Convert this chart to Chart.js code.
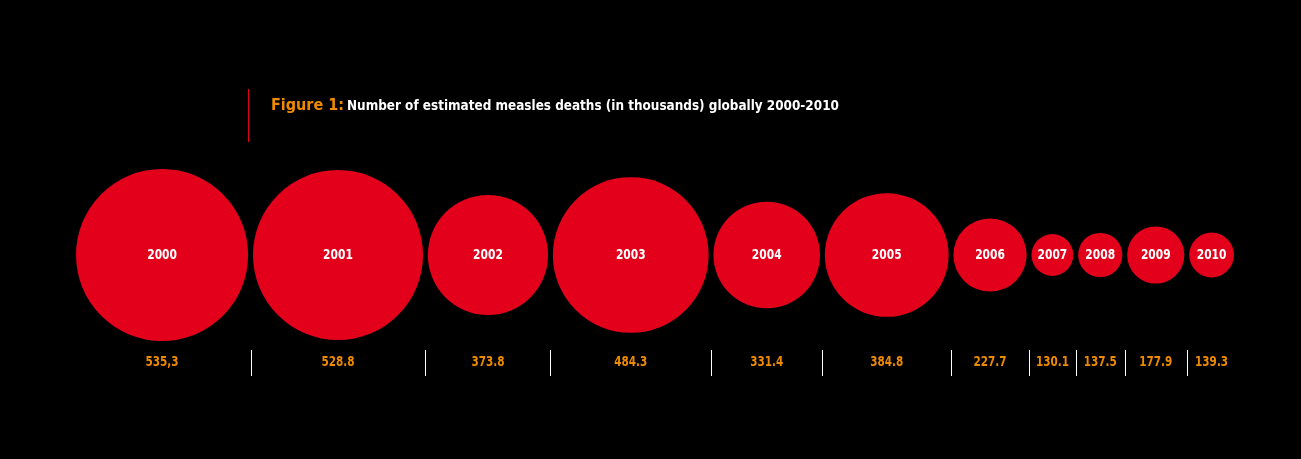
<!DOCTYPE html>
<html>
<head>
<meta charset="utf-8">
<script src="https://cdn.jsdelivr.net/npm/chart.js@4.4.1/dist/chart.umd.min.js"></script>
<style>
    html, body { margin: 0; padding: 0; background: #000; }
    canvas { display: block; }
</style>
</head>
<body>
<canvas id="chart" width="1301" height="459"></canvas>
<script>
var years = ['2000', '2001', '2002', '2003', '2004', '2005', '2006', '2007', '2008', '2009', '2010'];
var deaths = [535.3, 528.8, 373.8, 484.3, 331.4, 384.8, 227.7, 130.1, 137.5, 177.9, 139.3];
var valueLabels = ['535,3', '528.8', '373.8', '484.3', '331.4', '384.8', '227.7', '130.1', '137.5', '177.9', '139.3'];

var RED = '#e2001a',
    ORANGE = '#ee8a00',
    FONT = '"DejaVu Sans Condensed", "DejaVu Sans", sans-serif';

var PAD_LEFT = 76, PAD_RIGHT = 67, WIDTH = 1301;

// bubbles sit side by side, spacing in the same units as the values
var GAP = 30;
var centers = [], pos = 0;
for (var i = 0; i < deaths.length; i++) {
    if (i > 0) pos += GAP;
    centers.push(pos + deaths[i]);
    pos += 2 * deaths[i];
}
var total = pos;
// pixels per value unit on the x scale, so radius matches the x spacing
var pxPerUnit = (WIDTH - PAD_LEFT - PAD_RIGHT) / total;

var points = centers.map(function (c, i) {
    return { x: c, y: 0, r: deaths[i] * pxPerUnit };
});

// narrow text: squeeze horizontally around x
function narrowText(ctx, text, x, y, squeeze) {
    ctx.save();
    ctx.translate(x, y);
    ctx.scale(squeeze, 1);
    ctx.fillText(text, 0, 0);
    ctx.restore();
}

var labelsPlugin = {
    id: 'labels',
    afterDatasetsDraw: function (chart) {
        var ctx = chart.ctx,
            xs = chart.scales.x,
            meta = chart.getDatasetMeta(0);
        ctx.save();
        ctx.textAlign = 'center';
        ctx.textBaseline = 'middle';

        // years inside the circles
        ctx.fillStyle = '#fff';
        ctx.font = 'bold 13.5px ' + FONT;
        meta.data.forEach(function (el, i) {
            narrowText(ctx, years[i], el.x, el.y + 0.5, 0.88);
        });

        // values below
        ctx.fillStyle = ORANGE;
        ctx.font = 'bold 14.5px ' + FONT;
        meta.data.forEach(function (el, i) {
            narrowText(ctx, valueLabels[i], el.x, 362.5, 0.8);
        });

        // separators
        ctx.strokeStyle = '#fff';
        ctx.lineWidth = 1;
        for (var i = 0; i < deaths.length - 1; i++) {
            var px = Math.round(xs.getPixelForValue(centers[i] + deaths[i] + GAP / 2)) + 0.5;
            ctx.beginPath();
            ctx.moveTo(px, 350);
            ctx.lineTo(px, 376);
            ctx.stroke();
        }

        // title
        ctx.strokeStyle = RED;
        ctx.beginPath();
        ctx.moveTo(248.5, 89);
        ctx.lineTo(248.5, 142);
        ctx.stroke();

        ctx.textAlign = 'left';
        ctx.textBaseline = 'alphabetic';
        ctx.fillStyle = ORANGE;
        ctx.font = 'bold 16px ' + FONT;
        var head = 'Figure 1:';
        ctx.fillText(head, 271, 110);
        var w = ctx.measureText(head).width;
        ctx.fillStyle = '#fff';
        ctx.font = 'bold 13.4px ' + FONT;
        ctx.fillText('Number of estimated measles deaths (in thousands) globally 2000-2010', 271 + w + 3, 110);
        ctx.restore();
    }
};

new Chart(document.getElementById('chart'), {
    type: 'bubble',
    data: {
        datasets: [{
            data: points,
            backgroundColor: RED,
            borderWidth: 0,
            hoverBorderWidth: 0,
            clip: false
        }]
    },
    options: {
        responsive: false,
        animation: false,
        events: [],
        layout: {
            autoPadding: false,
            padding: { left: PAD_LEFT, right: PAD_RIGHT, top: 160, bottom: 109 }
        },
        scales: {
            x: { type: 'linear', min: 0, max: total, display: false },
            y: { type: 'linear', min: -1, max: 1, display: false }
        },
        plugins: {
            legend: { display: false },
            tooltip: { enabled: false }
        }
    },
    plugins: [labelsPlugin]
});
</script>
</body>
</html>
